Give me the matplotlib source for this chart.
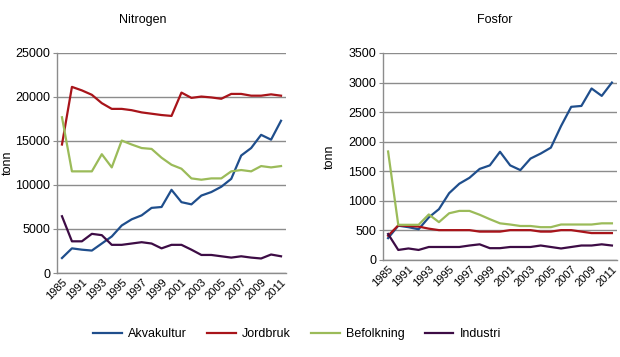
import numpy as np
import matplotlib.pyplot as plt

plt.rcParams['font.family'] = ['Liberation Sans', 'DejaVu Sans']

# --- DATA ---
years = [1985] + list(range(1990, 2012))
tick_labels = [str(y) for y in years]

# Nitrogen (tonn)
n_akvakultur = [1700, 2800, 2650, 2550, 3350, 4150, 5400, 6100, 6550, 7400, 7500, 9450,
                8050, 7800, 8800, 9200, 9800, 10700, 13350, 14200, 15700, 15150, 17300]
n_jordbruk = [14600, 21150, 20750, 20250, 19300, 18650, 18650, 18500, 18250, 18100, 17950, 17850,
              20500, 19900, 20050, 19950, 19800, 20350, 20350, 20150, 20150, 20300, 20150]
n_befolkning = [17700, 11550, 11550, 11550, 13500, 12000, 15050, 14600, 14200, 14100, 13100, 12300,
                11850, 10750, 10600, 10750, 10750, 11550, 11700, 11550, 12150, 12000, 12150]
n_industri = [6450, 3600, 3600, 4450, 4300, 3200, 3200, 3350, 3500, 3350, 2800, 3200,
              3200, 2650, 2050, 2050, 1900, 1750, 1900, 1750, 1650, 2100, 1900]

# Fosfor (tonn)
p_akvakultur = [370, 580, 555, 520, 720, 860, 1130, 1290, 1390, 1540, 1600, 1830,
                1600, 1520, 1715, 1800, 1900, 2265, 2590, 2605, 2900, 2775, 3000]
p_jordbruk = [410, 585, 575, 565, 530, 505, 505, 505, 505, 480, 480, 480,
              505, 505, 505, 480, 480, 505, 505, 480, 455, 455, 455]
p_befolkning = [1835, 595, 595, 595, 770, 640, 790, 830, 830, 765, 690, 620,
                600, 575, 575, 555, 555, 600, 600, 600, 600, 620, 620]
p_industri = [440, 170, 195, 170, 220, 220, 220, 220, 245, 265, 200, 200,
              220, 220, 220, 245, 220, 195, 220, 245, 245, 265, 245]

series_names = ["Akvakultur", "Jordbruk", "Befolkning", "Industri"]
colors = ["#1f4e8c", "#a8141a", "#9bbb59", "#3d0c45"]

# --- PLOT ---
fig = plt.figure(figsize=(6.2, 3.57), dpi=100)
ax1 = fig.add_axes([57 / 620, 1 - 273 / 357, 229 / 620, 220 / 357])
ax2 = fig.add_axes([383 / 620, 1 - 260 / 357, 234 / 620, 207 / 357])

x = np.arange(len(years))


def style_axis(ax, ymax, step):
    ax.set_xlim(-0.5, len(years) - 0.5)
    ax.set_ylim(0, ymax)
    ax.set_yticks(np.arange(0, ymax + 1, step))
    ax.yaxis.grid(True, color="#8c8c8c", linewidth=1.0)
    ax.set_axisbelow(True)
    for side in ["top", "right"]:
        ax.spines[side].set_visible(False)
    for side in ["left", "bottom"]:
        ax.spines[side].set_color("#8c8c8c")
        ax.spines[side].set_linewidth(1.0)
    ax.set_xticks(x[::2])
    ax.set_xticklabels(tick_labels[::2], rotation=45, ha="right",
                       rotation_mode="anchor", fontsize=8)
    ax.tick_params(axis="x", length=0, pad=3)
    ax.tick_params(axis="y", length=3, color="#8c8c8c", labelsize=9, pad=2)
    ax.set_ylabel("tonn", fontsize=9, labelpad=6)


nitrogen = [n_akvakultur, n_jordbruk, n_befolkning, n_industri]
fosfor = [p_akvakultur, p_jordbruk, p_befolkning, p_industri]

for vals, name, c in zip(nitrogen, series_names, colors):
    ax1.plot(x, vals, color=c, lw=1.6, label=name)
for vals, name, c in zip(fosfor, series_names, colors):
    ax2.plot(x, vals, color=c, lw=1.6)

style_axis(ax1, 25000, 5000)
style_axis(ax2, 3500, 500)
ax1.yaxis.set_label_coords(-0.19, 0.5)
ax2.yaxis.set_label_coords(-0.2, 0.5)

fig.text(143 / 620, 1 - 20 / 357, "Nitrogen", ha="center", va="center", fontsize=9)
fig.text(495 / 620, 1 - 20 / 357, "Fosfor", ha="center", va="center", fontsize=9)

fig.legend(loc="center", bbox_to_anchor=(297 / 620, 1 - 334 / 357), ncol=4,
           frameon=False, fontsize=9, handlelength=2.3, handletextpad=0.5,
           columnspacing=1.6)

fig.savefig("out.png", dpi=100)
